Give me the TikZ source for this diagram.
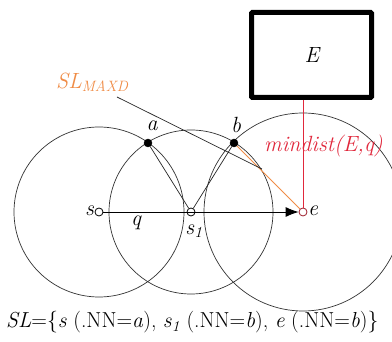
\documentclass[tikz,border=0pt]{standalone}
\usepackage{fontspec}
\setmainfont{Latin Modern Roman}
\usetikzlibrary{arrows.meta}
\definecolor{myorange}{RGB}{240,140,70}
\definecolor{myred}{RGB}{225,40,60}
\tikzset{
  circ/.style={draw=black!80, line width=0.7pt},
  filledpt/.style={circle, fill=black, draw=black, inner sep=0pt, minimum size=8pt},
  openpt/.style={circle, fill=white, draw=black, line width=0.8pt, inner sep=0pt, minimum size=8pt},
  lbl/.style={font=\fontsize{22}{26}\selectfont\itshape, inner sep=0pt},
  seg/.style={draw=black!85, line width=0.7pt}
}
\begin{document}
\begin{tikzpicture}[x=1pt,y=-1pt]
\useasboundingbox[fill=white] (0,0) rectangle (392,342);
% circles
\draw[circ] (99,212) circle[radius=85];
\draw[circ] (191,212) circle[radius=82];
\draw[circ] (303,212) circle[radius=99];
% points
\node[filledpt] (a) at (148,143) {};
\node[filledpt] (b) at (234,143) {};
\node[openpt] (s) at (99,212) {};
\node[openpt] (s1) at (191,212) {};
% box E
\node[draw, line width=5pt, rounded corners=1pt, minimum width=120pt, minimum height=85pt, inner sep=0pt] (E) at (311.5,55) {};
\node[lbl] (Elbl) at (312,55) {E};
\coordinate (Ebot) at (303,100);
% red line
\node[openpt, draw=myred!70!black] (e) at (303,212) {};
\draw[myred, line width=0.7pt] (Ebot) -- (e.north);
% orange line
\draw[myorange, line width=1pt] (b) -- (e);
% segments a-s1, b-s1
\draw[seg] (a) -- (s1);
\draw[seg] (b) -- (s1);
% arrow
\draw[line width=0.8pt, -{Latex[length=13pt,width=10pt]}] (s) -- (e.west);
% pointer from SL_MAXD
\node[lbl, text=myorange, anchor=south west] (slmax) at (56,92) {SL\textsubscript{\fontsize{15}{18}\selectfont MAXD}};
\coordinate (slend) at (117,97);
\coordinate (pt) at (262,169);
\draw[black!85, line width=0.7pt] (slend) -- (pt);
% labels
\node[lbl, anchor=east] (slbl) at (94,211) {s};
\node[lbl] (qlbl) at (136,223) {q};
\node[lbl] (s1lbl) at (194,231) {s\textsubscript{1}};
\node[lbl, anchor=west] (elbl) at (308,211) {e};
\node[lbl] (albl) at (152,126) {a};
\node[lbl] (blbl) at (236,125) {b};
\node[lbl, text=myred, anchor=west] (md) at (264,146) {mindist(E,q)};
% bottom
\node[font=\fontsize{21.7}{26}\selectfont, anchor=base west, inner sep=0pt] (SL) at (6,328) {\textit{SL}=\{\textit{s} (.NN=\textit{a}), \textit{s}\textsubscript{\textit{1}} (.NN=\textit{b}), \textit{e} (.NN=\textit{b})\}};
\end{tikzpicture}
\end{document}
